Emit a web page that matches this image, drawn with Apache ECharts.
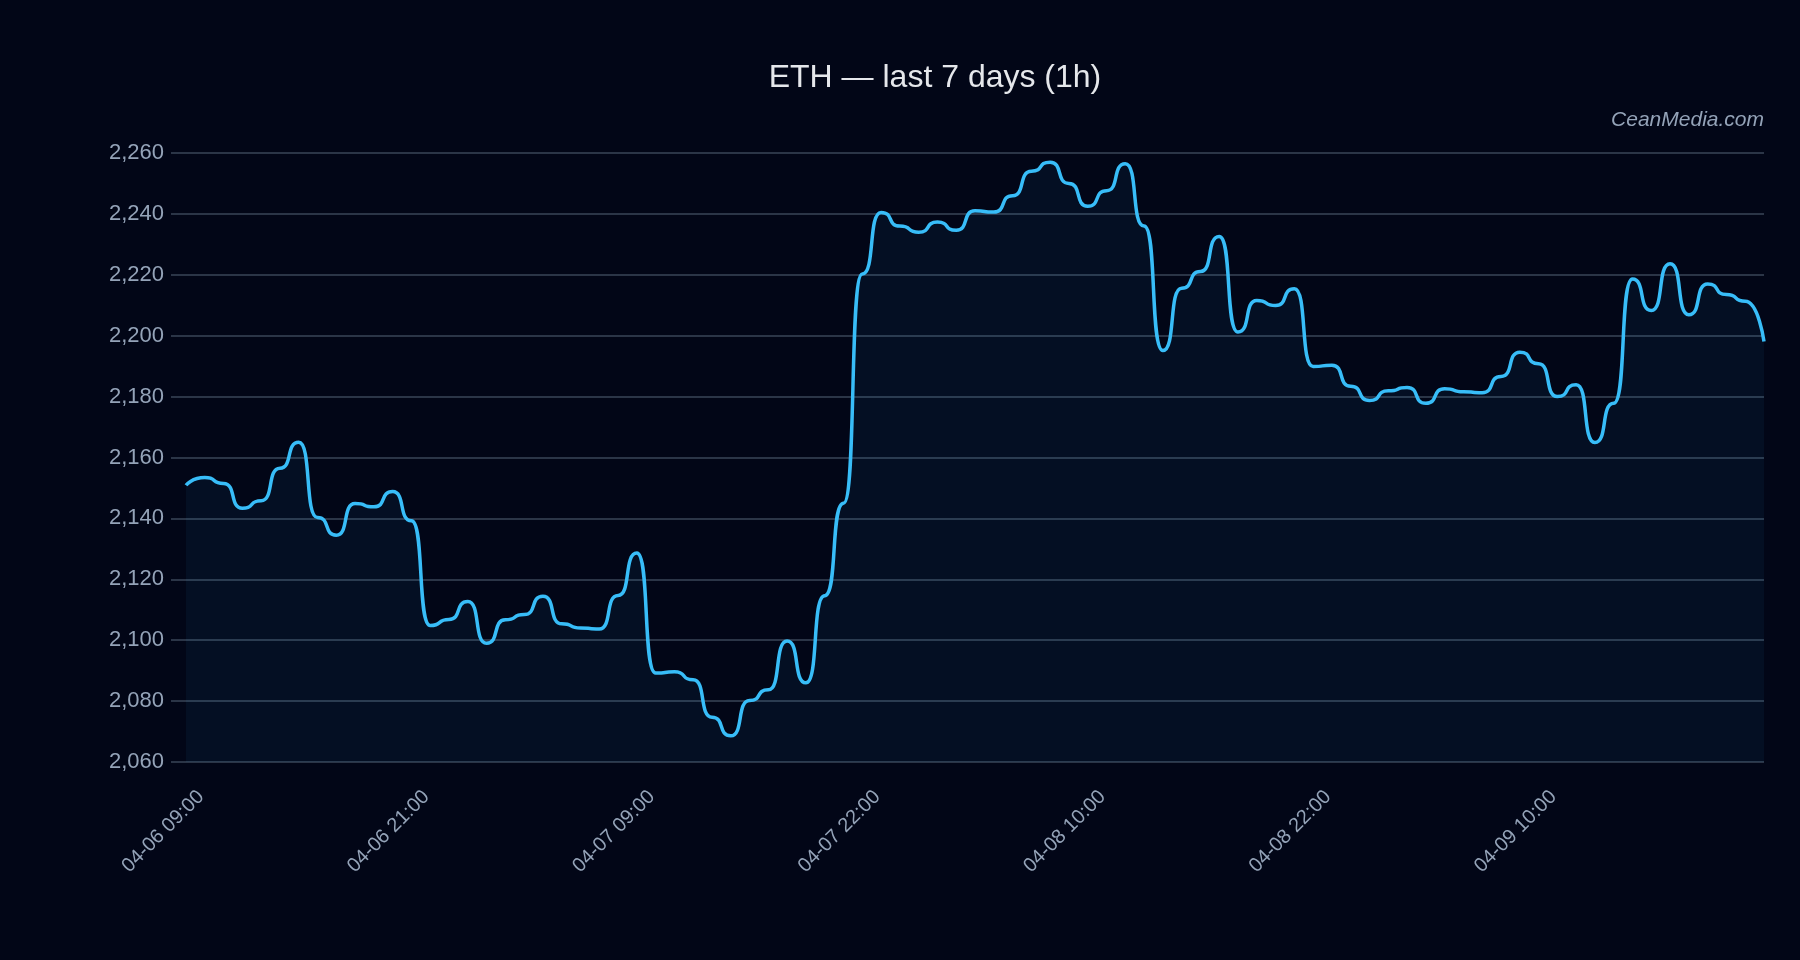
<!DOCTYPE html>
<html>
<head>
<meta charset="utf-8">
<title>ETH 7d</title>
<script src="https://cdn.jsdelivr.net/npm/echarts@6/dist/echarts.min.js"></script>
<style>
  html, body { margin: 0; padding: 0; background: #020617; }
  #chart { width: 1800px; height: 960px; }
</style>
</head>
<body>
<div id="chart"></div>
<script>
// hourly candles, one hour missing on 04-07 (feed gap)
function hours(day, from, to, skip) {
  var out = [];
  for (var h = from; h <= to; h++) {
    if (h === skip) continue;
    out.push(day + ' ' + (h < 10 ? '0' + h : h) + ':00');
  }
  return out;
}
var times = [].concat(
  hours('04-06', 9, 23),
  hours('04-07', 0, 23, 15),
  hours('04-08', 0, 23),
  hours('04-09', 0, 22)
);

var prices = [
  2150.9, 2153.4, 2151.5, 2143.3, 2145.8, 2156.5, 2165.0, 2140.3, 2134.5, 2144.9,
  2143.8, 2148.8, 2139.2, 2104.8, 2106.8, 2112.7, 2099.0, 2106.7, 2108.4, 2114.4,
  2105.4, 2104.0, 2103.7, 2114.7, 2128.6, 2089.2, 2089.6, 2087.0, 2074.7, 2068.6,
  2080.2, 2083.7, 2099.7, 2086.0, 2114.6, 2145.0, 2220.3, 2240.5, 2236.0, 2234.0,
  2237.3, 2234.6, 2241.0, 2240.6, 2246.0, 2254.0, 2257.0, 2250.0, 2242.5, 2247.6,
  2256.5, 2236.0, 2195.1, 2215.6, 2221.1, 2232.6, 2201.2, 2211.6, 2209.9, 2215.4,
  2189.9, 2190.3, 2183.4, 2178.7, 2181.9, 2183.0, 2177.8, 2182.6, 2181.6, 2181.3,
  2186.6, 2194.6, 2190.8, 2180.0, 2183.9, 2164.9, 2177.8, 2218.6, 2208.3, 2223.6,
  2206.9, 2217.0, 2213.5, 2211.3, 2198.1
];

var yMin = 2060, yMax = 2260, yStep = 20;
var labelEvery = 12;

var chart = echarts.init(document.getElementById('chart'));
chart.setOption({
  backgroundColor: '#020617',
  animation: false,
  graphic: [{
    // title sits a bit right of the page centre in the original
    type: 'text',
    x: 935,
    y: 78,
    style: {
      text: 'ETH \u2014 last 7 days (1h)',
      fill: '#e5e7eb',
      font: '32px "Liberation Sans"',
      align: 'center',
      verticalAlign: 'middle'
    }
  }, {
    type: 'text',
    right: 36,
    top: 110,
    style: { text: 'CeanMedia.com', fill: '#94a3b8', font: 'italic 21px "Liberation Sans"' }
  }],
  grid: { left: 186, right: 36, top: 153, bottom: 198 },
  xAxis: {
    type: 'category',
    data: times,
    boundaryGap: false,
    axisLine: { show: false },
    axisTick: { show: false },
    axisLabel: {
      interval: function (i) { return i % labelEvery === 0 && i < times.length - 1; },
      rotate: 45,
      margin: 17,
      verticalAlign: 'top',
      lineHeight: 42,
      color: '#94a3b8',
      fontSize: 20,
      fontFamily: 'Liberation Sans'
    },
    splitLine: { show: false }
  },
  yAxis: {
    type: 'value',
    min: yMin,
    max: yMax,
    interval: yStep,
    axisLine: { show: false },
    axisTick: { show: true, length: 15, lineStyle: { color: '#2b3547', width: 2 } },
    axisLabel: {
      margin: 22,
      color: '#94a3b8',
      fontSize: 22,
      fontFamily: 'Liberation Sans',
      formatter: function (v) { return v.toLocaleString('en-US'); }
    },
    splitLine: { lineStyle: { color: '#2b3547', width: 2 } }
  },
  series: [{
    type: 'line',
    data: prices,
    smooth: 0.7,
    smoothMonotone: 'x',
    showSymbol: false,
    lineStyle: { color: '#38bdf8', width: 3.5 },
    areaStyle: { color: 'rgba(56,189,248,0.08)' }
  }]
});
</script>
</body>
</html>
